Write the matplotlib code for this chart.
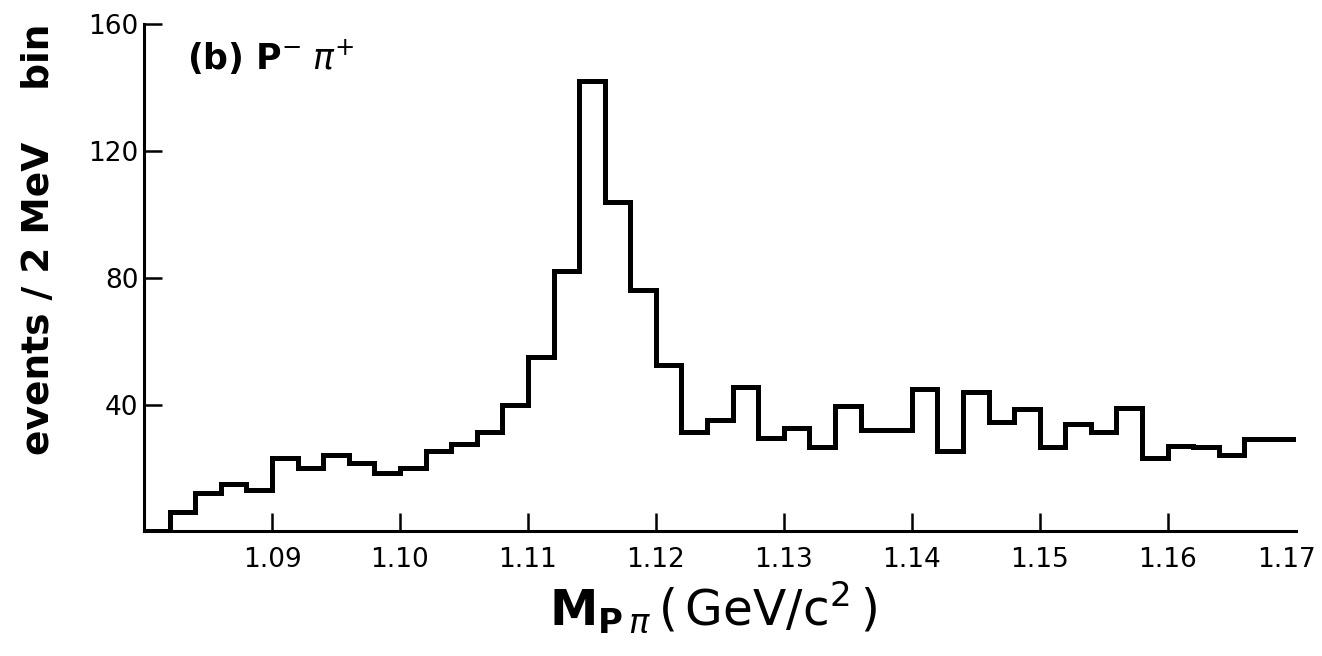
import numpy as np
import matplotlib
matplotlib.use("Agg")
import matplotlib.pyplot as plt
import matplotlib.transforms as mtransforms

# p- pi+ invariant mass spectrum, 2 MeV bins from 1.080 to 1.170 GeV/c^2
bin_lo = 1.080
bin_hi = 1.170
bin_width = 0.002
counts = [0, 6, 12, 15, 13, 23, 20, 24, 21.5, 18.5,
          20, 25.5, 27.5, 31.5, 40, 55, 82, 142, 104, 76,
          52.5, 31.5, 35, 45.5, 29.5, 32.5, 26.5, 39.5, 32, 32,
          45, 25.5, 44, 34.5, 38.5, 26.5, 34, 31.5, 39, 23,
          27, 26.5, 24, 29, 29]

x_ticks = [1.09, 1.10, 1.11, 1.12, 1.13, 1.14, 1.15, 1.16, 1.17]
x_ticklabels = ["1.09", "1.10", "1.11", "1.12", "1.13", "1.14", "1.15", "1.16", "1.17"]
y_ticks = [40, 80, 120, 160]

edges = np.linspace(bin_lo, bin_hi, len(counts) + 1)

fig = plt.figure(figsize=(13.22, 6.56), dpi=100)
ax = fig.add_axes([0.109, 0.19, 0.871, 0.773])

ax.stairs(counts, edges, baseline=None, color="black", lw=3.6)

ax.set_xlim(bin_lo, bin_hi)
ax.set_ylim(0, 160)

for s in ["top", "right"]:
    ax.spines[s].set_visible(False)
ax.spines["left"].set_linewidth(2.2)
ax.spines["bottom"].set_linewidth(2.2)

ax.set_xticks(x_ticks)
ax.set_xticklabels(x_ticklabels)
ax.set_yticks(y_ticks)
ax.tick_params(axis="both", direction="in", length=13, width=1.8, labelsize=19, colors="black")
ax.tick_params(axis="x", pad=11)
ax.tick_params(axis="y", pad=4)
ax.xaxis.get_major_ticks()[-1].tick1line.set_visible(False)
# last label sits at the right edge, nudge it in a little
last = ax.get_xticklabels()[-1]
last.set_transform(last.get_transform() + mtransforms.ScaledTranslation(-9 / 100, 0, fig.dpi_scale_trans))

ax.set_ylabel("events / 2 MeV    bin", fontsize=27, fontweight="bold")
ax.yaxis.set_label_coords(-0.076, 0.575)
ax.set_xlabel(r"$\mathbf{M}_{\mathbf{P}\,\pi}\,\mathrm{(\,GeV/c^{2}\,)}$", fontsize=35)
ax.xaxis.set_label_coords(0.494, -0.095)
ax.xaxis.label.set_va("top")

ax.text(0.037, 0.936, r"(b) P$^{-}\;\pi^{+}$", transform=ax.transAxes,
        fontsize=25, fontweight="bold", ha="left", va="center")

fig.savefig("out.png", dpi=100, facecolor="white")
